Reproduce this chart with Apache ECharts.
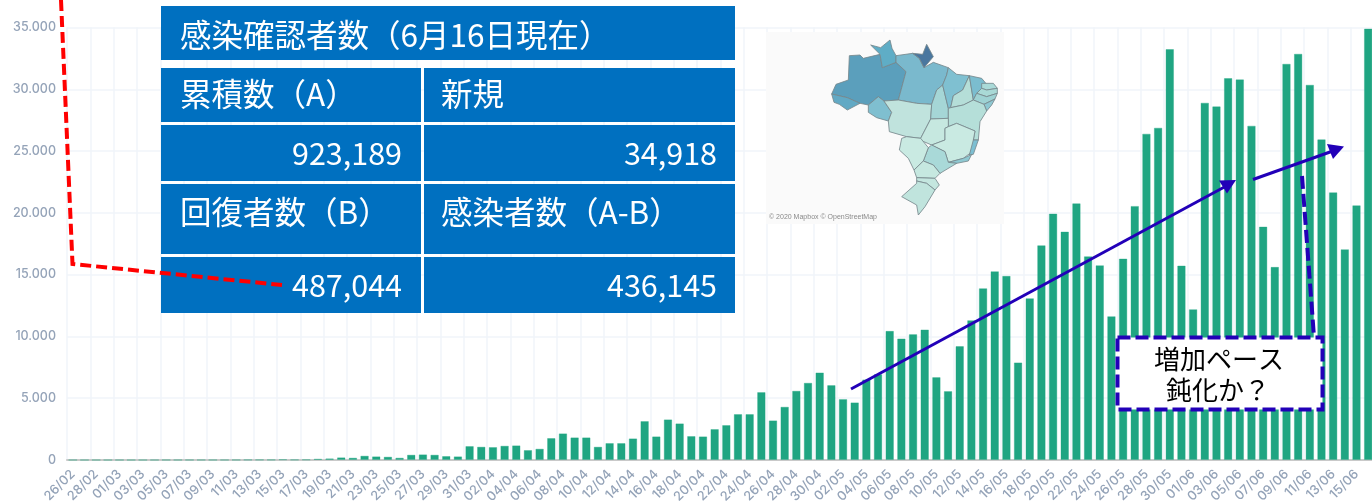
<!DOCTYPE html>
<html lang="ja">
<head>
    <meta charset="UTF-8">
    <title>新規感染者数</title>
    <script src="https://cdn.jsdelivr.net/npm/echarts@6/dist/echarts.min.js"></script>
    <style>
        html,
        body {
            margin: 0;
            height: 100%;
            background: #fff;
        }
        #main {
            width: 1372px;
            height: 504px;
        }
    </style>
</head>
<body>
    <div id="main"></div>
    <script type="text/javascript">
        const days = [
            '26/02', '27/02', '28/02', '29/02',
            '01/03', '02/03', '03/03', '04/03', '05/03', '06/03', '07/03', '08/03', '09/03', '10/03',
            '11/03', '12/03', '13/03', '14/03', '15/03', '16/03', '17/03', '18/03', '19/03', '20/03',
            '21/03', '22/03', '23/03', '24/03', '25/03', '26/03', '27/03', '28/03', '29/03', '30/03', '31/03',
            '01/04', '02/04', '03/04', '04/04', '05/04', '06/04', '07/04', '08/04', '09/04', '10/04',
            '11/04', '12/04', '13/04', '14/04', '15/04', '16/04', '17/04', '18/04', '19/04', '20/04',
            '21/04', '22/04', '23/04', '24/04', '25/04', '26/04', '27/04', '28/04', '29/04', '30/04',
            '01/05', '02/05', '03/05', '04/05', '05/05', '06/05', '07/05', '08/05', '09/05', '10/05',
            '11/05', '12/05', '13/05', '14/05', '15/05', '16/05', '17/05', '18/05', '19/05', '20/05',
            '21/05', '22/05', '23/05', '24/05', '25/05', '26/05', '27/05', '28/05', '29/05', '30/05', '31/05',
            '01/06', '02/06', '03/06', '04/06', '05/06', '06/06', '07/06', '08/06', '09/06', '10/06',
            '11/06', '12/06', '13/06', '14/06', '15/06', '16/06'
        ];
        const newCases = [
            1, 0, 0, 0, 1, 0, 0, 1, 4, 5, 6, 6, 5, 6,
            9, 18, 25, 21, 54, 27, 40, 108, 135, 216,
            190, 350, 296, 270, 190, 431, 458, 431, 323, 296, 1130,
            1078, 1050, 1158, 1185, 808, 916, 1780, 2156, 1832, 1832,
            1078, 1374, 1374, 1750, 3153, 1913, 3288, 2965, 1940, 1913,
            2506, 2830, 3720, 3720, 5498, 3207, 4312, 5606, 6252, 7088,
            6064, 4932, 4662, 6520, 6950, 10450, 9837, 10187, 10564, 6710,
            5579, 9217, 11319, 13906, 15280, 14903, 7896, 13098, 17383, 19943,
            18488, 20778, 16493, 15766, 11642, 16305, 20563, 26411, 26896, 33257, 15739,
            12209, 28917, 28621, 30912, 30804, 27058, 18892, 15631, 32070, 32879,
            30372, 25953, 21668, 17060, 20617, 34918
        ];
        const tableRows = [
            { left: '累積数（A）', right: '新規' },
            { left: '923,189', right: '34,918' },
            { left: '回復者数（B）', right: '感染者数（A-B）' },
            { left: '487,044', right: '436,145' }
        ];
        const tableTitle = '感染確認者数（6月16日現在）';
        const calloutLines = ['増加ペース', '鈍化か？'];

        // 地図の州ポリゴン (描画のみ、ズーム座標)
        const mapStates = [
            ['#5b9fbc', [[215, 207], [228, 178], [265, 165], [268, 92], [300, 90], [310, 100], [360, 88], [367, 128], [408, 112], [438, 140], [415, 225], [372, 228], [355, 215], [325, 240], [300, 235], [262, 218]]],
            ['#62a9c4', [[215, 207], [262, 218], [300, 235], [262, 255], [238, 238], [222, 232]]],
            ['#5fadc6', [[332, 60], [362, 68], [390, 45], [396, 70], [408, 92], [408, 112], [367, 128], [360, 88]]],
            ['#7ab9cd', [[408, 92], [458, 85], [478, 100], [492, 128], [520, 112], [565, 128], [560, 150], [548, 180], [530, 195], [515, 238], [470, 235], [415, 225], [438, 140], [408, 112]]],
            ['#4a779f', [[458, 85], [488, 88], [500, 58], [520, 95], [492, 128], [478, 100]]],
            ['#7fbfd0', [[325, 240], [355, 215], [372, 228], [395, 262], [385, 288], [350, 278], [325, 262]]],
            ['#c0e3dd', [[372, 228], [415, 225], [470, 235], [515, 238], [512, 282], [482, 340], [440, 335], [388, 320], [385, 288], [395, 262]]],
            ['#a5d6d6', [[515, 238], [530, 195], [548, 180], [565, 250], [565, 280], [512, 282]]],
            ['#7fc0d1', [[565, 128], [590, 148], [628, 152], [608, 195], [580, 212], [572, 248], [565, 250], [548, 180], [560, 150]]],
            ['#b5ded8', [[628, 152], [640, 225], [610, 240], [572, 248], [580, 212], [608, 195]]],
            ['#7bbdcf', [[628, 152], [665, 160], [680, 178], [665, 190], [650, 205], [640, 225]]],
            ['#aadad8', [[665, 175], [700, 175], [712, 190], [680, 195], [665, 190]]],
            ['#a9d9d6', [[650, 205], [665, 190], [680, 195], [712, 190], [712, 205], [680, 215]]],
            ['#9ed2d3', [[640, 225], [650, 205], [680, 215], [712, 205], [705, 222], [672, 238]]],
            ['#8ec8d2', [[672, 238], [705, 222], [695, 240], [680, 258]]],
            ['#b5dfd9', [[565, 250], [572, 248], [610, 240], [640, 225], [672, 238], [680, 258], [660, 290], [655, 345], [640, 345], [645, 318], [590, 295], [565, 305]]],
            ['#c6e8e0', [[512, 282], [565, 280], [565, 305], [555, 310], [555, 345], [515, 360], [480, 345], [482, 340]]],
            ['#c9eae2', [[565, 305], [590, 295], [645, 318], [640, 345], [650, 348], [630, 385], [610, 400], [565, 412], [555, 380], [515, 360], [555, 345], [555, 310]]],
            ['#7cbfd2', [[640, 345], [655, 345], [640, 388], [628, 390]]],
            ['#8ec9d2', [[565, 412], [610, 400], [635, 388], [625, 408], [590, 415]]],
            ['#a9d9d8', [[505, 368], [515, 360], [555, 380], [565, 412], [590, 415], [540, 445], [520, 420], [490, 408]]],
            ['#c9eae2', [[425, 340], [440, 335], [482, 340], [505, 368], [490, 408], [462, 435], [445, 400], [418, 375]]],
            ['#c6e8e0', [[490, 408], [520, 420], [540, 445], [525, 460], [470, 458], [462, 435]]],
            ['#c4e6df', [[470, 458], [525, 460], [538, 480], [525, 495], [500, 475], [470, 468]]],
            ['#c0e4dd', [[425, 515], [470, 475], [470, 468], [500, 475], [525, 495], [495, 545], [475, 570], [470, 540]]]
        ];

        const JP_FONT = '"Noto Sans CJK JP"';
        const AXIS_FONT = 'Inter';
        const BLUE = '#0070c0';
        const ARROW = '#2200b8';
        const TOP_Z = 100;

        const dotted = v => String(v).replace(/\B(?=(\d{3})+$)/g, '.');

        const cell = (x, y, width, height) => ({
            type: 'rect', z: TOP_Z,
            shape: { x, y, width, height },
            style: { fill: BLUE }
        });
        // 数字のセルは右寄せで少し小さい
        const cellText = (text, x, y, align) => ({
            type: 'text', z: TOP_Z + 1, x, y,
            style: {
                text, fill: '#fff', font: (align ? '30.5px ' : '31.5px ') + JP_FONT,
                textAlign: align || 'left', textVerticalAlign: 'middle'
            }
        });
        const stroke = (points, width, color, dash) => ({
            type: 'polyline', z: TOP_Z + 3,
            shape: { points },
            style: { stroke: color, lineWidth: width, fill: null, lineDash: dash || null }
        });
        const head = points => ({
            type: 'polygon', z: TOP_Z + 3,
            shape: { points },
            style: { fill: ARROW }
        });

        const overlay = [
            // 表
            cell(161, 6, 574, 54),
            cell(161, 68, 260, 54), cell(424, 68, 311, 54),
            cell(161, 125, 260, 56), cell(424, 125, 311, 56),
            cell(161, 184, 260, 70), cell(424, 184, 311, 70),
            cell(161, 257, 260, 56), cell(424, 257, 311, 56),
            cellText(tableTitle, 180, 35),
            cellText(tableRows[0].left, 180, 94), cellText(tableRows[0].right, 441, 94),
            cellText(tableRows[1].left, 402, 153, 'right'), cellText(tableRows[1].right, 717, 153, 'right'),
            cellText(tableRows[2].left, 180, 212), cellText(tableRows[2].right, 441, 212),
            cellText(tableRows[3].left, 402, 285, 'right'), cellText(tableRows[3].right, 717, 285, 'right'),
            // 地図
            {
                type: 'rect', z: TOP_Z,
                shape: { x: 766, y: 32, width: 238, height: 192 },
                style: { fill: '#fafafa' }
            },
            {
                type: 'group', x: 760, y: 25, scaleX: 1 / 3, scaleY: 1 / 3,
                children: mapStates.map(([fill, points]) => ({
                    type: 'polygon', z: TOP_Z + 1,
                    shape: { points },
                    style: { fill, stroke: '#76878b', lineWidth: 2.5, lineJoin: 'round' }
                }))
            },
            {
                type: 'text', z: TOP_Z + 1, x: 769, y: 217,
                style: {
                    text: '© 2020 Mapbox © OpenStreetMap', fill: '#8a8a8a',
                    font: '7px "Liberation Sans"', textVerticalAlign: 'middle'
                }
            },
            // 赤い破線
            stroke([[61, 0], [72.5, 264], [282, 285]], 4, '#ff0000', [11, 5]),
            // 矢印
            stroke([[851, 389], [1229, 184.5]], 3, ARROW),
            head([[1219, 180.5], [1236, 180], [1227, 193.5]]),
            stroke([[1253, 179.5], [1337, 149.5]], 3, ARROW),
            head([[1327, 144], [1344, 146.5], [1333, 159]]),
            // 吹き出し
            stroke([[1302, 176], [1314, 337]], 4, ARROW, [13, 5]),
            {
                type: 'rect', z: TOP_Z + 4,
                shape: { x: 1117.5, y: 337.5, width: 205, height: 72 },
                style: { fill: '#fff', stroke: ARROW, lineWidth: 4, lineDash: [13, 5] }
            },
            {
                type: 'text', z: TOP_Z + 5, x: 1219, y: 359,
                style: {
                    text: calloutLines[0], fill: '#000', font: '26px ' + JP_FONT,
                    textAlign: 'center', textVerticalAlign: 'middle'
                }
            },
            {
                type: 'text', z: TOP_Z + 5, x: 1218, y: 390.5,
                style: {
                    text: calloutLines[1], fill: '#000', font: '26px ' + JP_FONT,
                    textAlign: 'center', textVerticalAlign: 'middle'
                }
            }
        ];

        const myChart = echarts.init(document.getElementById('main'));
        myChart.setOption({
            animation: false,
            grid: { left: 67, right: -2, top: 27.5, bottom: 44, outerBoundsMode: 'none' },
            xAxis: {
                type: 'category',
                data: days,
                boundaryGap: true,
                axisLine: { lineStyle: { color: '#c9c9c9', width: 2 } },
                axisTick: {
                    length: 10,
                    interval: index => index === 0,
                    lineStyle: { color: '#b5b5b5' }
                },
                axisLabel: {
                    interval: 1,
                    rotate: 45,
                    margin: 12,
                    color: '#94a3b8',
                    fontFamily: AXIS_FONT,
                    fontWeight: 500,
                    fontSize: 13
                },
                splitLine: {
                    show: true,
                    interval: 1,
                    lineStyle: { color: '#f0f4fa', width: 1.5 }
                }
            },
            yAxis: {
                type: 'value',
                min: 0,
                max: 35000,
                interval: 5000,
                axisLine: { show: false },
                axisTick: { show: false },
                axisLabel: {
                    margin: 11,
                    color: '#94a3b8',
                    fontFamily: AXIS_FONT,
                    fontWeight: 500,
                    fontSize: 12.5,
                    formatter: dotted
                },
                splitLine: { lineStyle: { color: '#f0f4fa', width: 1.5 } }
            },
            series: [{
                type: 'bar',
                data: newCases,
                barWidth: 8.5,
                itemStyle: {
                    color: '#1fa582',
                    borderColor: 'rgba(31,165,130,0.35)',
                    borderWidth: 1
                }
            }],
            graphic: { elements: overlay }
        });
    </script>
</body>
</html>
